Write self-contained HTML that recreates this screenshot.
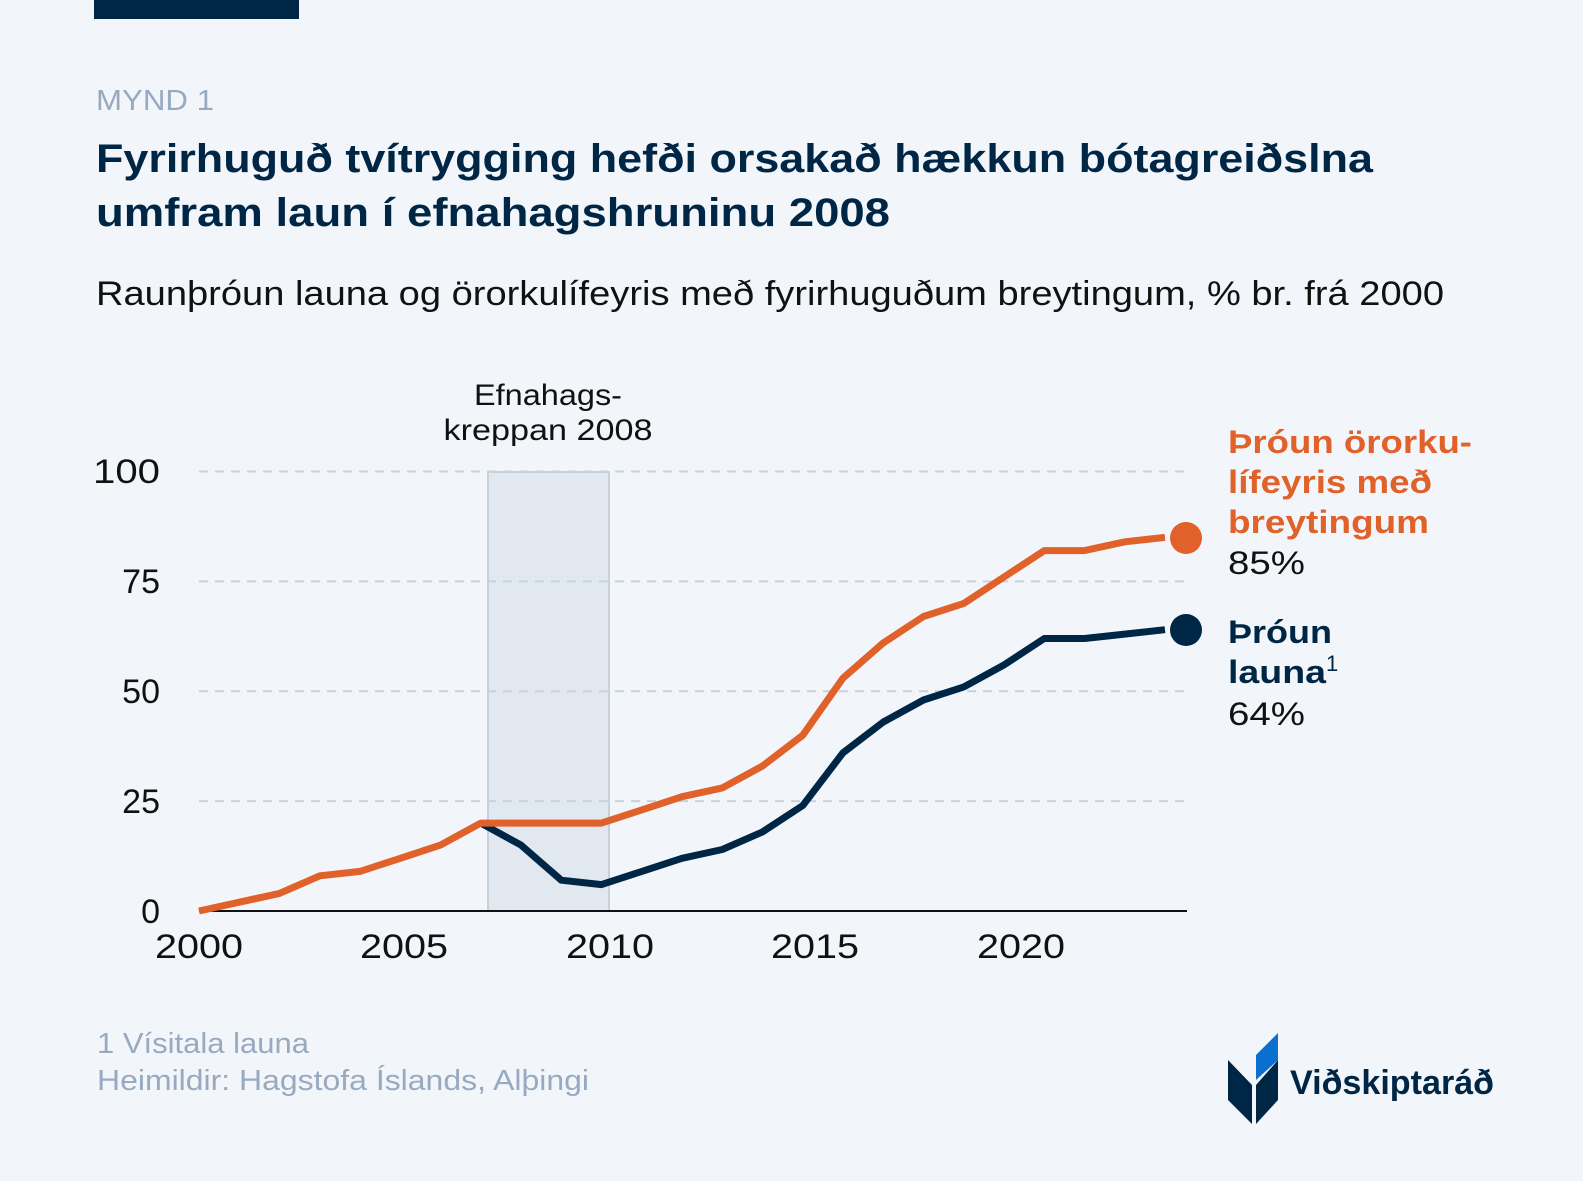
<!DOCTYPE html>
<html><head><meta charset="utf-8"><style>
html,body{margin:0;padding:0;background:#f2f6fb;}
svg{display:block;font-family:"Liberation Sans",sans-serif;}
</style></head><body>
<svg width="1583" height="1181" viewBox="0 0 1583 1181" xmlns="http://www.w3.org/2000/svg">
<rect width="1583" height="1181" fill="#f2f6fb"/>
<rect x="94" y="0" width="205" height="19" fill="#002646"/>
<text x="96" y="110" font-size="29" fill="#98aac0" textLength="118" lengthAdjust="spacingAndGlyphs">MYND 1</text>
<text x="96" y="172" font-size="40" font-weight="bold" fill="#002646" textLength="1277" lengthAdjust="spacingAndGlyphs">Fyrirhuguð tvítrygging hefði orsakað hækkun bótagreiðslna</text>
<text x="96" y="226" font-size="40" font-weight="bold" fill="#002646" textLength="794" lengthAdjust="spacingAndGlyphs">umfram laun í efnahagshruninu 2008</text>
<text x="96" y="305" font-size="34" fill="#111" textLength="1348" lengthAdjust="spacingAndGlyphs">Raunþróun launa og örorkulífeyris með fyrirhuguðum breytingum, % br. frá 2000</text>
<rect x="488" y="472" width="121" height="439" fill="#e2e8f0" stroke="#c8d0dc" stroke-width="2"/>
<text x="548" y="405" font-size="30" fill="#111" text-anchor="middle" textLength="148" lengthAdjust="spacingAndGlyphs">Efnahags-</text>
<text x="548" y="440" font-size="30" fill="#111" text-anchor="middle" textLength="209" lengthAdjust="spacingAndGlyphs">kreppan 2008</text>
<g stroke="#c9d1dc" stroke-width="2" stroke-dasharray="9,7">
<line x1="199" y1="471.5" x2="1187" y2="471.5"/>
<line x1="199" y1="581.4" x2="1187" y2="581.4"/>
<line x1="199" y1="691.2" x2="1187" y2="691.2"/>
<line x1="199" y1="801.1" x2="1187" y2="801.1"/>
</g>
<line x1="199" y1="911" x2="1187" y2="911" stroke="#111" stroke-width="2"/>
<g font-size="34" fill="#111" text-anchor="end">
<text x="160" y="483" textLength="67" lengthAdjust="spacingAndGlyphs">100</text><text x="160" y="593">75</text><text x="160" y="703">50</text><text x="160" y="813">25</text><text x="160" y="923">0</text>
</g>
<g font-size="34" fill="#111" text-anchor="middle">
<text x="199" y="958" textLength="88" lengthAdjust="spacingAndGlyphs">2000</text><text x="404" y="958" textLength="88" lengthAdjust="spacingAndGlyphs">2005</text><text x="610" y="958" textLength="88" lengthAdjust="spacingAndGlyphs">2010</text><text x="815" y="958" textLength="88" lengthAdjust="spacingAndGlyphs">2015</text><text x="1021" y="958" textLength="88" lengthAdjust="spacingAndGlyphs">2020</text>
</g>
<polyline fill="none" stroke="#002646" stroke-width="7" stroke-linejoin="round" points="480.8,823.1 521,845.1 561.3,880.2 601.5,884.6 641.8,871.4 682,858.3 722.3,849.5 762.5,831.9 802.8,805.5 843,752.8 883.3,722 923.5,700 963.8,686.9 1004,664.9 1044.3,638.5 1084.5,638.5 1124.8,634.1 1165,629.7"/>
<polyline fill="none" stroke="#e0612a" stroke-width="7" stroke-linejoin="round" points="199,911 239.3,902.2 279.5,893.4 319.8,875.8 360,871.4 400.3,858.3 440.5,845.1 480.8,823.1 521,823.1 561.3,823.1 601.5,823.1 641.8,809.9 682,796.7 722.3,787.9 762.5,766 802.8,735.2 843,678.1 883.3,642.9 923.5,616.5 963.8,603.4 1004,577 1044.3,550.6 1084.5,550.6 1124.8,541.8 1165,537.4"/>
<circle cx="1186" cy="538" r="16" fill="#e0612a"/>
<circle cx="1186" cy="630" r="16" fill="#002646"/>
<g font-size="32">
<text x="1228" y="453" font-weight="bold" fill="#e0612a" textLength="244" lengthAdjust="spacingAndGlyphs">Þróun örorku-</text>
<text x="1228" y="493" font-weight="bold" fill="#e0612a" textLength="204" lengthAdjust="spacingAndGlyphs">lífeyris með</text>
<text x="1228" y="533" font-weight="bold" fill="#e0612a" textLength="201" lengthAdjust="spacingAndGlyphs">breytingum</text>
<text x="1228" y="574" fill="#111" textLength="77" lengthAdjust="spacingAndGlyphs">85%</text>
<text x="1228" y="643" font-weight="bold" fill="#002646" textLength="104" lengthAdjust="spacingAndGlyphs">Þróun</text>
<text x="1228" y="683" font-weight="bold" fill="#002646"><tspan textLength="98" lengthAdjust="spacingAndGlyphs">launa</tspan><tspan font-size="22" font-weight="normal" dy="-12">1</tspan></text>
<text x="1228" y="725" fill="#111" textLength="77" lengthAdjust="spacingAndGlyphs">64%</text>
</g>
<text x="97" y="1053" font-size="29" fill="#98aac0" textLength="212" lengthAdjust="spacingAndGlyphs">1 Vísitala launa</text>
<text x="97" y="1090" font-size="29" fill="#98aac0" textLength="492" lengthAdjust="spacingAndGlyphs">Heimildir: Hagstofa Íslands, Alþingi</text>
<polygon points="1228,1060 1252,1085 1252,1124 1228,1100" fill="#002646"/>
<polygon points="1256,1085 1278,1060 1278,1100 1256,1124" fill="#002646"/>
<polygon points="1256,1080 1256,1055 1278,1033 1278,1060" fill="#0a6fcf"/>
<text x="1290" y="1094" font-size="34" font-weight="bold" fill="#002646" textLength="204" lengthAdjust="spacingAndGlyphs">Viðskiptaráð</text>
</svg>
</body></html>
